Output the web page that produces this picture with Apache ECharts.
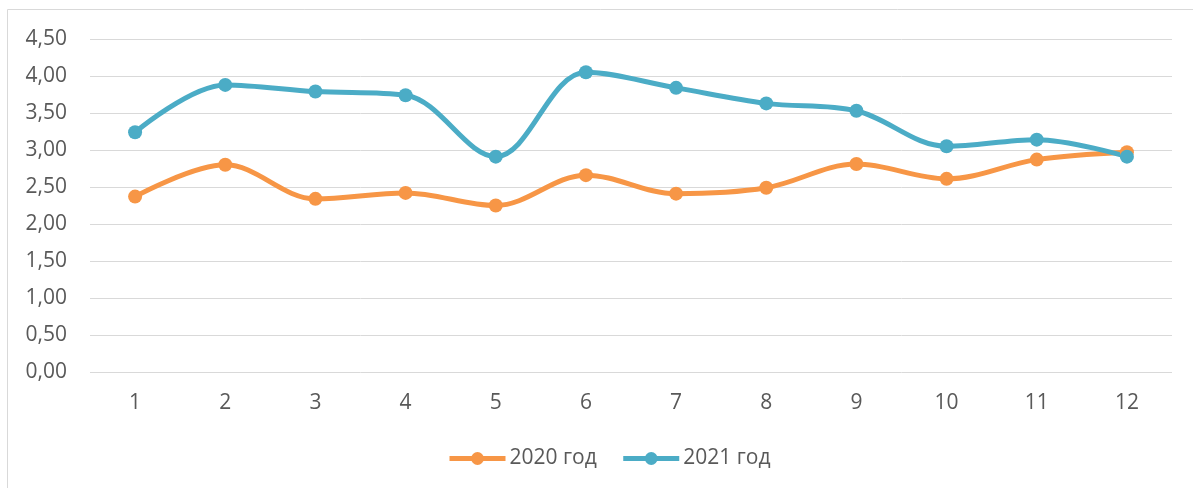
<!DOCTYPE html>
<html>
<head>
<meta charset="utf-8">
<script src="https://cdn.jsdelivr.net/npm/echarts@6/dist/echarts.min.js"></script>
<style>
  html, body { margin: 0; padding: 0; background: #fff; }
  #chart { width: 1193px; height: 488px; }
</style>
</head>
<body>
<div id="chart"></div>
<script>
const months = ['1', '2', '3', '4', '5', '6', '7', '8', '9', '10', '11', '12']
const values2020 = [2.37, 2.80, 2.34, 2.42, 2.25, 2.66, 2.41, 2.49, 2.81, 2.61, 2.87, 2.97]
const values2021 = [3.24, 3.88, 3.79, 3.74, 2.91, 4.05, 3.84, 3.63, 3.53, 3.05, 3.14, 2.91]
const seriesNames = ['2020 год', '2021 год']
const colors = ['#F79646', '#4BACC6']

const textColor = '#595959'
const fontFamily = '"Open Sans", Lato, sans-serif'

function lineSeries(name, data, color) {
  return {
    name,
    type: 'line',
    data,
    smooth: 0.35,
    symbol: 'circle',
    symbolSize: 14,
    lineStyle: { width: 5, color },
    itemStyle: { color },
    emphasis: { disabled: true }
  }
}

const chart = echarts.init(document.getElementById('chart'))
chart.setOption({
  animation: false,
  color: colors,
  textStyle: { fontFamily },
  graphic: [{
    type: 'rect',
    shape: { x: 7.5, y: 9.5, width: 1200, height: 500 },
    style: { fill: 'none', stroke: '#d9d9d9', lineWidth: 1 },
    silent: true
  }],
  grid: { left: 90, right: 21, top: 39, bottom: 116 },
  xAxis: {
    type: 'category',
    data: months,
    boundaryGap: true,
    axisLine: { show: false },
    axisTick: { show: false },
    axisLabel: { color: textColor, fontSize: 21, margin: 21 }
  },
  yAxis: {
    type: 'value',
    min: 0,
    max: 4.5,
    interval: 0.5,
    axisLine: { show: false },
    axisTick: { show: false },
    axisLabel: {
      color: textColor,
      fontSize: 21,
      margin: 23,
      formatter: (v) => v.toFixed(2).replace('.', ',')
    },
    splitLine: { lineStyle: { color: '#d9d9d9', width: 1 } }
  },
  legend: {
    bottom: 14,
    left: 442,
    itemWidth: 56,
    itemHeight: 16,
    itemGap: 24,
    data: seriesNames,
    lineStyle: { width: 5 },
    textStyle: { color: textColor, fontSize: 21, padding: [0, 0, 0, -1] }
  },
  series: [
    lineSeries(seriesNames[0], values2020, colors[0]),
    lineSeries(seriesNames[1], values2021, colors[1])
  ]
})
</script>
</body>
</html>
